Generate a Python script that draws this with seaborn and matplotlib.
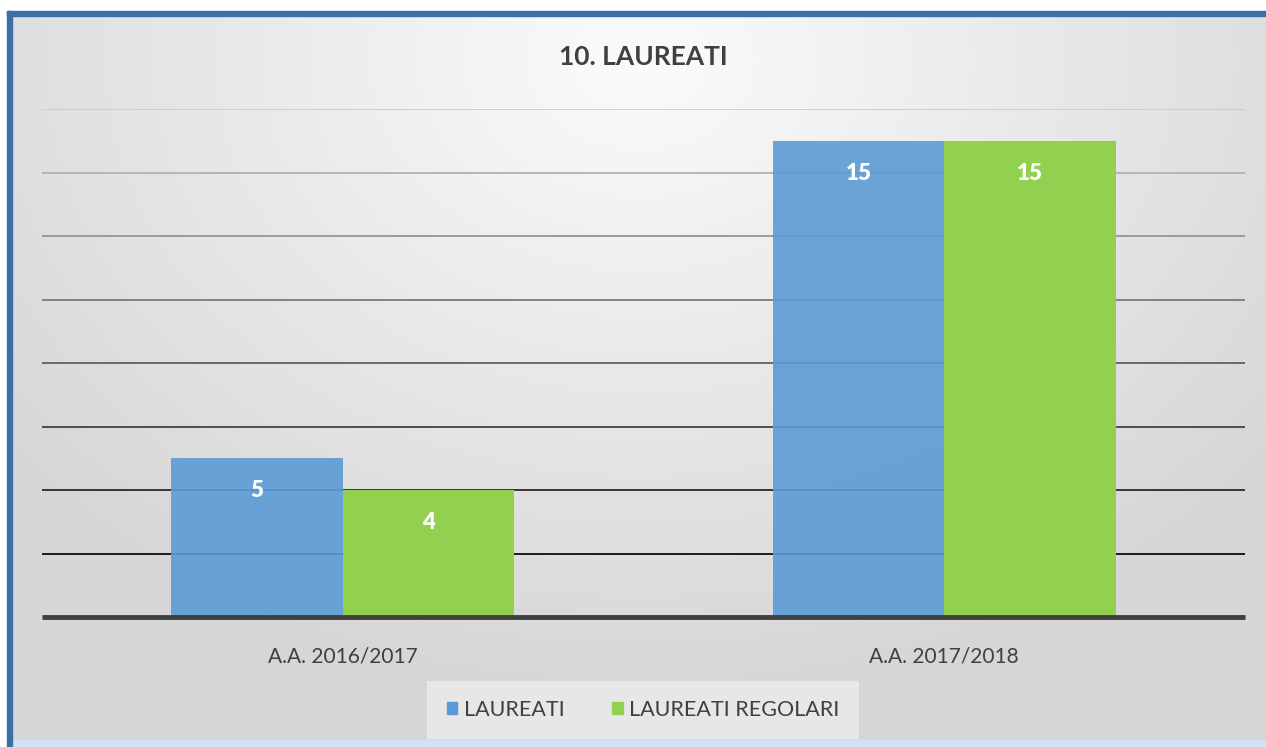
import numpy as np
import pandas as pd
import seaborn as sns
import matplotlib.pyplot as plt
from matplotlib.patches import Rectangle, Patch

categories = ["A.A. 2016/2017", "A.A. 2017/2018"]
laureati = [5, 15]
laureati_regolari = [4, 15]
series = ["LAUREATI", "LAUREATI REGOLARI"]
title = "10. LAUREATI"

blue = "#5b9bd5"
green = "#92d050"
text_col = "#404040"

df = pd.DataFrame({
    "anno": categories * 2,
    "valore": laureati + laureati_regolari,
    "serie": [series[0]] * len(categories) + [series[1]] * len(categories),
})

sns.set_theme(style="white")
plt.rcParams["font.family"] = ["Lato", "DejaVu Sans"]

W, H = 1266, 747
fig = plt.figure(figsize=(W / 100, H / 100), dpi=100)

# background: soft radial grey gradient like the office chart style
bg = fig.add_axes([0, 0, 1, 1], zorder=-10)
yy, xx = np.mgrid[0:H, 0:W]
r = np.sqrt(((xx - 640) / 900.0) ** 2 + ((yy - 60) / 700.0) ** 2)
shade = np.clip(0.985 - 0.16 * r, 0.84, 1.0)
img = np.dstack([shade, shade, shade])
bg.imshow(img, extent=(0, W, H, 0), aspect="auto")
bg.set_xlim(0, W)
bg.set_ylim(H, 0)
bg.axis("off")
# blue frame on the left / top, white outside, light strip at the bottom
bg.add_patch(Rectangle((0, 0), W, 11, color="white", zorder=2))
bg.add_patch(Rectangle((0, 0), 7, H, color="white", zorder=2))
bg.add_patch(Rectangle((7, 11), W, 5, color="#3b70a6", zorder=3))
bg.add_patch(Rectangle((7, 11), 5, H, color="#3b70a6", zorder=3))
bg.add_patch(Rectangle((12, 740), W, 7, color="#d3e2f0", zorder=2))

ax = fig.add_axes([42 / W, 1 - 617 / H, (1245 - 42) / W, (617 - 109) / H])
ax.patch.set_alpha(0)

sns.barplot(data=df, x="anno", y="valore", hue="serie", palette=[blue, green],
            width=0.57, saturation=1, linewidth=0, ax=ax, legend=False, zorder=3)

# blue bars let the gridlines shine through a little
for p in ax.containers[0]:
    p.set_alpha(0.9)

ax.set_ylim(0, 16)
ax.set_xlim(-0.5, len(categories) - 0.5)

# gridlines darken toward the bottom
levels = np.arange(2, 17, 2)
for lv in levels:
    g = 0.05 + 0.75 * (lv - 2) / 14
    ax.axhline(lv, color=(g, g, g), lw=1.3, zorder=1)
ax.axhline(0, color="#404040", lw=3.5, zorder=4, clip_on=False, solid_capstyle="butt")

for c in ax.containers:
    ax.bar_label(c, padding=-31, color="white", fontsize=16, weight="heavy")

ax.set_yticks([])
ax.set_xlabel("")
ax.set_ylabel("")
ax.tick_params(axis="x", length=0, pad=21, labelsize=15, labelcolor=text_col)
sns.despine(ax=ax, left=True, bottom=True)

fig.text(643 / W, 1 - 57 / H, title, ha="center", va="center",
         fontsize=19, fontweight="bold", color=text_col)

handles = [Patch(color=blue), Patch(color=green)]
leg = fig.legend(handles, series, loc="center", bbox_to_anchor=(643 / W, 1 - 710 / H),
                 ncol=2, frameon=True, fontsize=15.5, handlelength=0.5, handleheight=0.5,
                 handletextpad=0.3, columnspacing=2.2, borderpad=0.6)
leg.get_frame().set_facecolor("#ececec")
leg.get_frame().set_edgecolor("none")
leg.get_frame().set_boxstyle("square")
for t in leg.get_texts():
    t.set_color(text_col)

fig.savefig("out.png", dpi=100)
